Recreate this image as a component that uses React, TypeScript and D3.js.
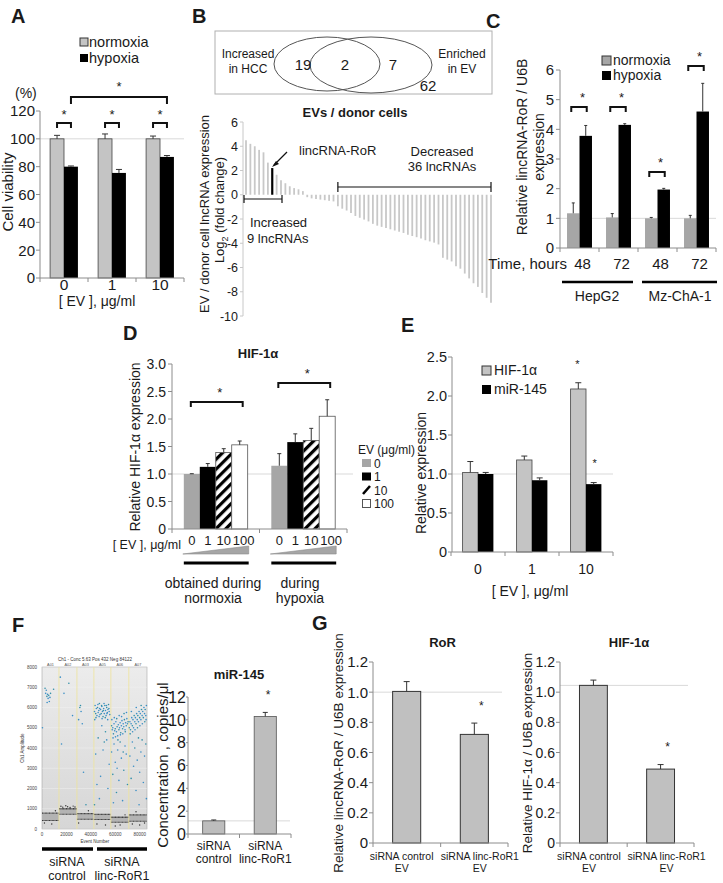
import React from "react";
import * as d3 from "d3";

const FONT = "'Liberation Sans', Arial, Helvetica, sans-serif";
const AX = "#8c8c8c";
const INK = "#1a1a1a";

// ---------- A ----------
const aDoses = ["0", "1", "10"];
const aNormoxia = [100, 100, 100];
const aNormoxiaErr = [2.5, 3.5, 2];
const aHypoxia = [80, 75.5, 87];
const aHypoxiaErr = [0.5, 2.5, 1];
const aTicks = [0, 20, 40, 60, 80, 100, 120];

// ---------- B ----------
const vennCounts = [19, 2, 7, 62];
const bIncreased = [4.5, 4.2, 4.0, 3.7, 3.5, 2.65, 2.2, 1.65, 1.2];
const bMiddle = [0.95, 0.7, 0.55, 0.45, 0.3, -0.2, -0.3, -0.35, -0.4, -0.45, -0.5, -0.55];
const bDecreased = [-0.95, -1.15, -1.3, -1.5, -1.75, -1.9, -2.05, -2.2, -2.4, -2.55, -2.65, -2.75, -2.85, -2.95, -3.05, -3.15, -3.3, -3.4, -3.5, -3.6, -3.75, -3.85, -3.95, -4.1, -5.2, -5.35, -5.5, -5.9, -6.1, -6.5, -6.9, -7.3, -7.6, -8.1, -8.5, -8.9];
const bRoRIndex = 6;
const bTicks = [6, 4, 2, 0, -2, -4, -6, -8, -10];

// ---------- C ----------
const cTimes = ["48", "72", "48", "72"];
const cCells = ["HepG2", "Mz-ChA-1"];
const cNormoxia = [1.17, 1.03, 1.0, 1.0];
const cNormoxiaErr = [0.35, 0.13, 0.03, 0.1];
const cHypoxia = [3.78, 4.15, 1.97, 4.6];
const cHypoxiaErr = [0.35, 0.04, 0.04, 0.95];
const cTicks = [0, 1, 2, 3, 4, 5, 6];

// ---------- D ----------
const dDoses = ["0", "1", "10", "100"];
const dConditions = ["normoxia", "hypoxia"];
const dNormoxia = [1.0, 1.13, 1.39, 1.53];
const dNormoxiaErr = [0.005, 0.06, 0.07, 0.07];
const dHypoxia = [1.15, 1.58, 1.61, 2.05];
const dHypoxiaErr = [0.22, 0.15, 0.22, 0.3];
const dTicks = [0, 0.5, 1.0, 1.5, 2.0, 2.5, 3.0];

// ---------- E ----------
const eDoses = ["0", "1", "10"];
const eHif = [1.02, 1.18, 2.09];
const eHifErr = [0.14, 0.05, 0.08];
const eMir = [1.0, 0.92, 0.87];
const eMirErr = [0.02, 0.03, 0.02];
const eTicks = [0, 0.5, 1.0, 1.5, 2.0, 2.5];

// ---------- F ----------
const fGroups = ["control", "linc-RoR1"];
const fConc = [1.15, 10.3];
const fConcErr = [0.08, 0.35];
const fTicks = [0, 2, 4, 6, 8, 10, 12];
const fWellNames = ["A01", "A02", "A03", "A05", "A06", "A07"];
const fWellEdgesK = [0, 13.9, 28.6, 42.5, 56.4, 71.1, 86];
const fBandLow = [420, 730, 480, 470, 330, 380];
const fBandHigh = [780, 1000, 760, 720, 580, 700];
const fAmpTicks = [0, 1000, 2000, 3000, 4000, 5000, 6000, 7000, 8000];
const fEventTicks = [0, 20000, 40000, 60000, 80000];
// positive droplets [event (thousands), amplitude]
const fPositives: [number, number][] = [
  [2.5, 6950], [3, 6700], [3.5, 6850], [4, 6550], [4.5, 6650], [5, 6450], [5.5, 6600], [6, 6300], [6.5, 6500], [7, 6700], [4.2, 6250], [0.4, 5000], [9.5, 6900],
  [15, 7500], [18, 6700], [22, 7200], [16, 4200], [25, 5600],
  [31, 6000], [32, 5800], [33, 5200], [31.5, 6100], [34, 2800], [30, 5400], [36, 1200],
  [43, 5800], [43.5, 6100], [44, 5700], [44.5, 5950], [45, 5600], [45.5, 6000], [46, 5750], [46.5, 5850], [47, 6200], [47.5, 5650], [48, 5900], [48.5, 5700], [49, 6050], [49.5, 5800], [50, 5550], [50.5, 5950], [51, 5700], [51.5, 6100], [52, 5850], [52.5, 5600], [53, 6000], [53.5, 5750], [54, 5900], [54.5, 6150], [55, 5800], [55.5, 5650], [44.2, 5500], [46.8, 5550], [49.2, 5450], [51.8, 5500], [53.8, 5400], [45.8, 6150], [48.8, 6100], [50.8, 6200], [52.8, 6100], [54.8, 5950], [43.2, 5400], [47.2, 5950], [50.2, 5850], [53.2, 5700],
  [44, 3700], [46, 4500], [48, 2600], [50, 3900], [52, 4800], [53, 4400], [55, 3200], [43, 1200], [45, 2200], [49, 5100], [51, 4300], [54, 2000], [47, 1500],
  [57, 5100], [57.5, 4900], [58, 5000], [58.5, 4700], [59, 5200], [59.5, 4850], [60, 4950], [60.5, 5300], [61, 4800], [61.5, 5050], [62, 4600], [62.5, 5150], [63, 4900], [63.5, 5000], [64, 5250], [64.5, 4750], [65, 5100], [65.5, 5350], [66, 4950], [66.5, 5200], [67, 5050], [67.5, 5400], [68, 4900], [68.5, 5250], [69, 5100], [69.5, 5450], [70, 5200], [70.5, 5300], [58.2, 4500], [60.2, 4550], [62.2, 4400], [64.2, 4650], [66.2, 4700], [68.2, 4800], [57.2, 5400], [59.2, 5500], [61.2, 5450], [63.2, 5600], [65.2, 5550], [67.2, 5700], [69.2, 5750],
  [57, 3800], [58, 2700], [59, 4200], [60, 3300], [61, 1800], [62, 3900], [63, 2400], [64, 4300], [65, 3500], [66, 1400], [67, 2900], [68, 4100], [69, 3700], [70, 2200], [58.5, 1300], [61.5, 3000], [66.5, 3800],
  [71.5, 5000], [72, 5300], [72.5, 4900], [73, 5200], [73.5, 5500], [74, 5100], [74.5, 5400], [75, 5000], [75.5, 5600], [76, 5300], [76.5, 5500], [77, 5200], [77.5, 5700], [78, 5400], [78.5, 5600], [79, 5300], [79.5, 5800], [80, 5500], [80.5, 5700], [81, 5400], [81.5, 5900], [82, 5600], [82.5, 5800], [83, 5500], [83.5, 6000], [84, 5700], [84.5, 5900], [85, 5600], [85.5, 6100], [72.2, 4700], [74.2, 4800], [76.2, 4900], [78.2, 5000], [80.2, 5100], [82.2, 5200], [84.2, 5300], [73.2, 5800], [77.2, 6000], [81.2, 6100], [85.2, 5400],
  [72, 3600], [73, 2500], [74, 4300], [75, 3100], [76, 4000], [77, 1900], [78, 3400], [79, 4500], [80, 2800], [81, 3800], [82, 4400], [83, 2300], [84, 3600], [85, 4200], [85.5, 1500], [79.5, 1200],
];
// negative-side rain droplets (dark) [event (thousands), amplitude]
const fNegRain: [number, number][] = [
  [15.5, 1120], [17, 1080], [19.5, 1150], [21, 1100], [23, 1060], [25.5, 1130], [27, 1090], [2, 300], [8, 250], [11, 900], [30, 300], [38, 900], [45, 250], [52, 200], [60, 150], [64, 200], [74, 250], [80, 200], [84, 300], [68, 700], [77, 850],
];

// ---------- G ----------
const gGroups = ["siRNA control", "siRNA linc-RoR1"];
const gRoR = [1.005, 0.72];
const gRoRErr = [0.065, 0.075];
const gHif = [1.045, 0.49];
const gHifErr = [0.035, 0.03];
const gTicks = [0, 0.2, 0.4, 0.6, 0.8, 1.0, 1.2];

// ---------- helpers ----------
const T = (props: any) => (
  <text fontFamily={FONT} fill={INK} {...props} />
);

function ErrUp({ x, yTop, yErr, cap = 3 }: { x: number; yTop: number; yErr: number; cap?: number }) {
  return (
    <g stroke="#333" strokeWidth={1}>
      <line x1={x} x2={x} y1={yTop} y2={yErr} />
      <line x1={x - cap} x2={x + cap} y1={yErr} y2={yErr} />
    </g>
  );
}

function Bracket({ x1, x2, y, h = 5, w = 2 }: { x1: number; x2: number; y: number; h?: number; w?: number }) {
  return <path d={`M${x1},${y + h}V${y}H${x2}V${y + h}`} fill="none" stroke="#111" strokeWidth={w} />;
}

function YAxis({ scale, ticks, x, fmt, size, labelX, tick = 4 }: any) {
  const [r0, r1] = scale.range();
  return (
    <g>
      <line x1={x} x2={x} y1={r0} y2={r1} stroke={AX} strokeWidth={1} />
      {ticks.map((t: number) => (
        <g key={t}>
          <line x1={x - tick} x2={x} y1={scale(t)} y2={scale(t)} stroke={AX} />
          <T x={labelX} y={scale(t)} dy="0.36em" textAnchor="end" fontSize={size}>
            {fmt ? fmt(t) : String(t)}
          </T>
        </g>
      ))}
    </g>
  );
}

function XAxis({ x0, x1, y, ticks }: { x0: number; x1: number; y: number; ticks: number[] }) {
  return (
    <g stroke={AX}>
      <line x1={x0} x2={x1} y1={y} y2={y} />
      {ticks.map((t, i) => (
        <line key={i} x1={t} x2={t} y1={y} y2={y + 4} />
      ))}
    </g>
  );
}

function RefLine({ x0, x1, y }: { x0: number; x1: number; y: number }) {
  return <line x1={x0} x2={x1} y1={y} y2={y} stroke="#d9d9d9" strokeWidth={1} />;
}

function Star({ x, y, size = 13 }: { x: number; y: number; size?: number }) {
  return (
    <T x={x} y={y + size * 0.55} textAnchor="middle" fontSize={size}>
      *
    </T>
  );
}

function bandEdges(x: d3.ScaleBand<string>, x0: number, x1: number) {
  const step = x.step();
  const dom = x.domain();
  const out = [x0];
  for (let i = 1; i < dom.length; i++) out.push(x0 + step * i);
  out.push(x1);
  return out;
}

// ---------- Panel A ----------
function PanelA() {
  const y = d3.scaleLinear().domain([0, 120]).range([278, 111]);
  const x = d3.scaleBand().domain(aDoses).range([40, 184]).paddingInner(0.42).paddingOuter(0.21);
  const bw = x.bandwidth() / 2;
  return (
    <g>
      <T x={11} y={23} fontSize={20} fontWeight="bold">A</T>
      <rect x={80} y={38} width={8} height={8} fill="#c4c4c4" stroke="#333" />
      <T x={89} y={47} fontSize={14.5}>normoxia</T>
      <rect x={80} y={54} width={8} height={8} fill="#000" />
      <T x={89} y={63} fontSize={14.5}>hypoxia</T>
      <T x={15} y={98} fontSize={14}>(%)</T>
      <RefLine x0={40} x1={184} y={y(100)} />
      {aDoses.map((d, i) => {
        const xs = x(d)!;
        return (
          <g key={d}>
            <rect x={xs} y={y(aNormoxia[i])} width={bw} height={y(0) - y(aNormoxia[i])} fill="#c4c4c4" stroke="#444" strokeWidth={0.8} />
            <rect x={xs + bw} y={y(aHypoxia[i])} width={bw} height={y(0) - y(aHypoxia[i])} fill="#000" />
            <ErrUp x={xs + bw / 2} yTop={y(aNormoxia[i])} yErr={y(aNormoxia[i] + aNormoxiaErr[i])} />
            <ErrUp x={xs + 1.5 * bw} yTop={y(aHypoxia[i])} yErr={y(aHypoxia[i] + aHypoxiaErr[i])} />
            <Bracket x1={xs + bw / 2} x2={xs + 1.5 * bw} y={123} h={5} />
            <Star x={xs + bw} y={112} />
            <T x={xs + bw} y={290} textAnchor="middle" fontSize={15.5}>{d}</T>
          </g>
        );
      })}
      <Bracket x1={x("0")! + 1.5 * bw} x2={x("10")! + 1.5 * bw} y={97} h={7} />
      <Star x={(x("0")! + x("10")!) / 2 + 1.5 * bw} y={84} />
      <YAxis scale={y} ticks={aTicks} x={40} size={15} labelX={35} />
      <XAxis x0={40} x1={184} y={278} ticks={bandEdges(x, 40, 184)} />
      <T transform="translate(8,192) rotate(-90)" dy="0.35em" textAnchor="middle" fontSize={15}>Cell viability</T>
      <T x={97} y={306} textAnchor="middle" fontSize={14}>[ EV ], μg/ml</T>
    </g>
  );
}

// ---------- Panel B ----------
function PanelB() {
  const values = [...bIncreased, ...bMiddle, ...bDecreased];
  const idx = values.map((_, i) => i);
  const x = d3.scalePoint<number>().domain(idx).range([246, 491]);
  const y = d3.scaleLinear().domain([6, -10]).range([122, 316]);
  const incEnd = x(bIncreased.length - 1)!;
  const decStart = x(bIncreased.length + bMiddle.length)!;
  const decEnd = x(values.length - 1)!;
  return (
    <g>
      <T x={192} y={23} fontSize={20} fontWeight="bold">B</T>
      <rect x={215} y={31} width={277} height={63} fill="none" stroke="#b0b0b0" />
      <ellipse cx={327} cy={64} rx={53} ry={27} fill="none" stroke="#555" />
      <ellipse cx={371} cy={65} rx={61} ry={28} fill="none" stroke="#555" />
      <T x={248} y={58} textAnchor="middle" fontSize={12}>Increased</T>
      <T x={248} y={73} textAnchor="middle" fontSize={12}>in HCC</T>
      <T x={462} y={58} textAnchor="middle" fontSize={12}>Enriched</T>
      <T x={462} y={73} textAnchor="middle" fontSize={12}>in EV</T>
      <T x={303} y={70} textAnchor="middle" fontSize={15}>{vennCounts[0]}</T>
      <T x={345} y={70} textAnchor="middle" fontSize={15}>{vennCounts[1]}</T>
      <T x={393} y={70} textAnchor="middle" fontSize={15}>{vennCounts[2]}</T>
      <T x={428} y={91} textAnchor="middle" fontSize={15}>{vennCounts[3]}</T>
      <T x={355} y={117} textAnchor="middle" fontSize={13} fontWeight="bold">EVs / donor cells</T>
      <g>
        <line x1={243} x2={243} y1={122} y2={316} stroke="#c8c8c8" />
        {bTicks.map((t) => (
          <g key={t}>
            <line x1={240} x2={243} y1={y(t)} y2={y(t)} stroke="#c8c8c8" />
            <T x={238} y={y(t)} dy="0.36em" textAnchor="end" fontSize={12.5}>{String(t)}</T>
          </g>
        ))}
      </g>
      {values.map((v, i) => (
        <line key={i} x1={x(i)} x2={x(i)} y1={y(0)} y2={y(v)}
          stroke={i === bRoRIndex ? "#000" : "#c8c8c8"} strokeWidth={i === bRoRIndex ? 2.2 : 1.8} />
      ))}
      <T transform="translate(204,214) rotate(-90)" dy="0.35em" textAnchor="middle" fontSize={13}>EV / donor cell lncRNA expression</T>
      <T transform="translate(219,210) rotate(-90)" dy="0.35em" textAnchor="middle" fontSize={13}>
        Log<tspan fontSize={9} dy="4">2</tspan><tspan dy="-4"> (fold change)</tspan>
      </T>
      <line x1={287} y1={152} x2={274} y2={165} stroke="#111" strokeWidth={1.2} />
      <path d="M272,167 L279,164 L276,161 Z" fill="#111" />
      <T x={299} y={155} fontSize={13}>lincRNA-RoR</T>
      <line x1={x(0)! - 2} x2={incEnd + 1} y1={199} y2={199} stroke="#111" strokeWidth={1.2} />
      <line x1={x(0)! - 2} x2={x(0)! - 2} y1={195} y2={203} stroke="#111" strokeWidth={1.2} />
      <line x1={incEnd + 1} x2={incEnd + 1} y1={195} y2={203} stroke="#111" strokeWidth={1.2} />
      <T x={250} y={227} fontSize={13}>Increased</T>
      <T x={247} y={243} fontSize={13}>9 lncRNAs</T>
      <line x1={decStart} x2={decEnd} y1={187} y2={187} stroke="#111" strokeWidth={1.2} />
      <line x1={decStart} x2={decStart} y1={182} y2={192} stroke="#111" strokeWidth={1.2} />
      <line x1={decEnd} x2={decEnd} y1={182} y2={192} stroke="#111" strokeWidth={1.2} />
      <T x={442} y={156} textAnchor="middle" fontSize={13}>Decreased</T>
      <T x={442} y={171} textAnchor="middle" fontSize={13}>36 lncRNAs</T>
    </g>
  );
}

// ---------- Panel C ----------
function PanelC() {
  const y = d3.scaleLinear().domain([0, 6]).range([248, 70]);
  const keys = cTimes.map((t, i) => `${i}`);
  const x = d3.scaleBand().domain(keys).range([560, 716]).paddingInner(0.36).paddingOuter(0.18);
  const bw = x.bandwidth() / 2;
  const brY = [107, 107, 172, 66];
  return (
    <g>
      <T x={486} y={28} fontSize={20} fontWeight="bold">C</T>
      <rect x={602} y={56} width={9} height={9} fill="#a6a6a6" stroke="#333" />
      <T x={613} y={65} fontSize={14}>normoxia</T>
      <rect x={602} y={71} width={9} height={9} fill="#000" />
      <T x={613} y={80} fontSize={14}>hypoxia</T>
      <RefLine x0={560} x1={716} y={y(1)} />
      {keys.map((k, i) => {
        const xs = x(k)!;
        return (
          <g key={k}>
            <rect x={xs} y={y(cNormoxia[i])} width={bw} height={y(0) - y(cNormoxia[i])} fill="#a6a6a6" />
            <rect x={xs + bw} y={y(cHypoxia[i])} width={bw} height={y(0) - y(cHypoxia[i])} fill="#000" />
            <ErrUp x={xs + bw / 2} yTop={y(cNormoxia[i])} yErr={y(cNormoxia[i] + cNormoxiaErr[i])} cap={1.5} />
            <ErrUp x={xs + 1.5 * bw} yTop={y(cHypoxia[i])} yErr={y(cHypoxia[i] + cHypoxiaErr[i])} cap={1.5} />
            <Bracket x1={xs + bw / 2 - 2} x2={xs + 1.5 * bw + 1} y={brY[i]} h={5} />
            <Star x={xs + bw + 3} y={brY[i] - 12} />
            <T x={xs + bw + 3} y={269} textAnchor="middle" fontSize={15}>{cTimes[i]}</T>
          </g>
        );
      })}
      <YAxis scale={y} ticks={cTicks} x={560} size={15} labelX={554} />
      <XAxis x0={560} x1={716} y={248} ticks={bandEdges(x, 560, 716)} />
      <T x={567} y={269} textAnchor="end" fontSize={15}>Time, hours</T>
      <line x1={562} x2={633} y1={282} y2={282} stroke="#000" strokeWidth={2.5} />
      <line x1={642} x2={717} y1={282} y2={282} stroke="#000" strokeWidth={2.5} />
      <T x={597} y={301} textAnchor="middle" fontSize={14}>{cCells[0]}</T>
      <T x={680} y={301} textAnchor="middle" fontSize={14}>{cCells[1]}</T>
      <T transform="translate(522,147) rotate(-90)" dy="0.35em" textAnchor="middle" fontSize={14}>Relative lincRNA-RoR / U6B</T>
      <T transform="translate(539,147) rotate(-90)" dy="0.35em" textAnchor="middle" fontSize={14}>expression</T>
    </g>
  );
}

// ---------- Panel D ----------
function PanelD() {
  const y = d3.scaleLinear().domain([0, 3]).range([529, 364]);
  const xg = d3.scaleBand().domain(dConditions).range([172, 347]).paddingInner(0.27).paddingOuter(0.135);
  const xi = d3.scaleBand().domain(dDoses).range([0, xg.bandwidth()]);
  const fills = ["#a6a6a6", "#000", "url(#hatch)", "#fff"];
  const series = [dNormoxia, dHypoxia];
  const errs = [dNormoxiaErr, dHypoxiaErr];
  const brY = [402, 383];
  const starY = [390, 371];
  const legY = [459, 472.5, 486, 499.5];
  return (
    <g>
      <T x={123} y={340} fontSize={20} fontWeight="bold">D</T>
      <T x={258} y={358} textAnchor="middle" fontSize={13} fontWeight="bold">HIF-1α</T>
      <RefLine x0={172} x1={353} y={y(1)} />
      {dConditions.map((c, gi) => {
        const g0 = xg(c)!;
        return (
          <g key={c}>
            {dDoses.map((d, i) => {
              const v = series[gi][i];
              const bx = g0 + xi(d)!;
              return (
                <g key={d}>
                  <rect x={bx} y={y(v)} width={xi.bandwidth()} height={y(0) - y(v)} fill={fills[i]}
                    stroke={i === 3 || i === 2 ? "#555" : "none"} strokeWidth={0.8} />
                  <ErrUp x={bx + xi.bandwidth() / 2} yTop={y(v)} yErr={y(v + errs[gi][i])} cap={2} />
                  <T x={bx + xi.bandwidth() / 2 + (i === 3 ? 4 : 0)} y={545} textAnchor="middle" fontSize={13}>{d}</T>
                </g>
              );
            })}
            <Bracket x1={g0 + 7} x2={g0 + xg.bandwidth() - 5} y={brY[gi]} h={5} />
            <Star x={g0 + xg.bandwidth() / 2 + 4} y={starY[gi]} />
            <path d={`M${g0 - 1},554 L${g0 + xg.bandwidth() + 1},554 L${g0 + xg.bandwidth() + 1},546 Z`} fill="#a6a6a6" stroke="#8c8c8c" strokeWidth={0.6} />
            <line x1={g0} x2={g0 + xg.bandwidth() + 1} y1={563} y2={563} stroke="#000" strokeWidth={3} />
          </g>
        );
      })}
      <YAxis scale={y} ticks={dTicks} x={172} size={14} labelX={166} fmt={(t: number) => (t === 0 ? "0" : t.toFixed(1))} />
      <XAxis x0={172} x1={347} y={529} ticks={bandEdges(xg, 172, 347)} />
      <T x={181} y={549} textAnchor="end" fontSize={12.5}>[ EV ], μg/ml</T>
      <T x={213} y={588} textAnchor="middle" fontSize={14}>obtained during</T>
      <T x={213} y={603} textAnchor="middle" fontSize={14}>normoxia</T>
      <T x={300} y={588} textAnchor="middle" fontSize={14}>during</T>
      <T x={300} y={603} textAnchor="middle" fontSize={14}>hypoxia</T>
      <T transform="translate(135,447) rotate(-90)" dy="0.35em" textAnchor="middle" fontSize={14}>Relative HIF-1α expression</T>
      <T x={358} y={454} fontSize={12}>EV (μg/ml)</T>
      <rect x={362} y={legY[0]} width={9} height={8} fill="#a6a6a6" />
      <T x={374} y={legY[0] + 8.5} fontSize={12}>0</T>
      <rect x={362} y={legY[1]} width={9} height={8} fill="#000" />
      <T x={374} y={legY[1] + 8.5} fontSize={12}>1</T>
      <line x1={363} y1={legY[2] + 8} x2={370} y2={legY[2]} stroke="#000" strokeWidth={2.5} />
      <T x={374} y={legY[2] + 8.5} fontSize={12}>10</T>
      <rect x={362.5} y={legY[3]} width={8} height={8} fill="#fff" stroke="#555" />
      <T x={374} y={legY[3] + 8.5} fontSize={12}>100</T>
    </g>
  );
}

// ---------- Panel E ----------
function PanelE() {
  const y = d3.scaleLinear().domain([0, 2.5]).range([552, 357]);
  const x = d3.scaleBand().domain(eDoses).range([451, 613]).paddingInner(0.43).paddingOuter(0.215);
  const bw = x.bandwidth() / 2;
  return (
    <g>
      <T x={401} y={332} fontSize={20} fontWeight="bold">E</T>
      <RefLine x0={452} x1={613} y={y(1)} />
      {eDoses.map((d, i) => {
        const xs = x(d)!;
        return (
          <g key={d}>
            <rect x={xs} y={y(eHif[i])} width={bw} height={y(0) - y(eHif[i])} fill="#c4c4c4" stroke="#444" strokeWidth={0.8} />
            <rect x={xs + bw} y={y(eMir[i])} width={bw} height={y(0) - y(eMir[i])} fill="#000" />
            <ErrUp x={xs + bw / 2} yTop={y(eHif[i])} yErr={y(eHif[i] + eHifErr[i])} cap={3} />
            <ErrUp x={xs + 1.5 * bw} yTop={y(eMir[i])} yErr={y(eMir[i] + eMirErr[i])} cap={3} />
            <T x={xs + bw} y={574} textAnchor="middle" fontSize={14}>{d}</T>
          </g>
        );
      })}
      <Star x={x("10")! + bw / 2 - 1} y={362} size={11} />
      <Star x={x("10")! + 1.5 * bw + 1} y={461} size={11} />
      <YAxis scale={y} ticks={eTicks} x={452} size={14.5} labelX={447} fmt={(t: number) => (t === 0 ? "0" : t.toFixed(1))} />
      <XAxis x0={452} x1={613} y={552} ticks={bandEdges(x, 451, 613)} />
      <rect x={482} y={366} width={9} height={9} fill="#c4c4c4" stroke="#333" />
      <T x={494} y={375} fontSize={14}>HIF-1α</T>
      <rect x={482} y={385} width={9} height={9} fill="#000" />
      <T x={494} y={394} fontSize={14}>miR-145</T>
      <T transform="translate(421,473) rotate(-90)" dy="0.35em" textAnchor="middle" fontSize={14}>Relative expression</T>
      <T x={530} y={596} textAnchor="middle" fontSize={14}>[ EV ], μg/ml</T>
    </g>
  );
}

// ---------- Panel F ----------
function PanelF() {
  const sx = d3.scaleLinear().domain([0, 86000]).range([42, 147]);
  const sy = d3.scaleLinear().domain([0, 8000]).range([829, 667]);
  const y = d3.scaleLinear().domain([0, 12]).range([834, 697]);
  const x = d3.scaleBand().domain(fGroups).range([188, 291]).paddingInner(0.57).paddingOuter(0.285);
  return (
    <g>
      <T x={12} y={632} fontSize={20} fontWeight="bold">F</T>
      {/* ddPCR plot */}
      <rect x={42} y={667} width={105} height={162} fill="url(#ddgrad)" stroke="#999" strokeWidth={0.5} />
      {fAmpTicks.map((t) => (
        <g key={t}>
          <line x1={42} x2={147} y1={sy(t)} y2={sy(t)} stroke="#f4f4f4" strokeWidth={0.4} />
          <T x={37} y={sy(t)} dy="0.35em" textAnchor="end" fontSize={4.5} fill="#444">{String(t)}</T>
        </g>
      ))}
      {fEventTicks.map((t) => (
        <T key={t} x={sx(t)} y={836} textAnchor="middle" fontSize={4.5} fill="#444">{String(t)}</T>
      ))}
      {fWellNames.map((w, i) => {
        const a = sx(fWellEdgesK[i] * 1000);
        const b = sx(fWellEdgesK[i + 1] * 1000);
        return (
          <g key={w}>
            <T x={(a + b) / 2} y={666} textAnchor="middle" fontSize={3.8} fill="#555">{w}</T>
            <rect x={a} y={sy(fBandHigh[i])} width={b - a} height={sy(fBandLow[i]) - sy(fBandHigh[i])} fill="#b3b3b3" />
            <line x1={a} x2={b} y1={sy(fBandHigh[i])} y2={sy(fBandHigh[i])} stroke="#3a3a3a" strokeWidth={1.3} strokeDasharray="1 0.4" />
            <line x1={a} x2={b} y1={sy(fBandLow[i])} y2={sy(fBandLow[i])} stroke="#3a3a3a" strokeWidth={1.1} strokeDasharray="1 0.4" />
            {i > 0 && <line x1={a} x2={a} y1={667} y2={829} stroke="#efe39a" strokeWidth={0.8} />}
          </g>
        );
      })}
      {fNegRain.map(([e, a], i) => (
        <circle key={"n" + i} cx={sx(e * 1000)} cy={sy(a)} r={0.7} fill="#333" />
      ))}
      {fPositives.map(([e, a], i) => (
        <circle key={"p" + i} cx={sx(e * 1000)} cy={sy(a)} r={0.8} fill={i % 3 === 0 ? "#2f8fa8" : "#3b8fc6"} />
      ))}
      <T x={95} y={661} textAnchor="middle" fontSize={4.5} fill="#333">Ch1 - Conc 5.63 Pos 432 Neg 84122</T>
      <T x={95} y={843} textAnchor="middle" fontSize={4.5} fill="#333">Event Number</T>
      <T transform="translate(22,748) rotate(-90)" dy="0.35em" textAnchor="middle" fontSize={4.5} fill="#333">Ch1 Amplitude</T>
      <line x1={42} x2={93} y1={849} y2={849} stroke="#000" strokeWidth={3.5} />
      <line x1={97} x2={147} y1={849} y2={849} stroke="#000" strokeWidth={3.5} />
      <T x={67} y={866} textAnchor="middle" fontSize={12.5}>siRNA</T>
      <T x={67} y={880} textAnchor="middle" fontSize={12.5}>control</T>
      <T x={122} y={866} textAnchor="middle" fontSize={12.5}>siRNA</T>
      <T x={122} y={880} textAnchor="middle" fontSize={12.5}>linc-RoR1</T>
      {/* bar chart */}
      <T x={239} y={679} textAnchor="middle" fontSize={13} fontWeight="bold">miR-145</T>
      <RefLine x0={188} x1={290} y={y(fConc[0])} />
      {fGroups.map((g, i) => {
        const bx = x(g)!;
        return (
          <g key={g}>
            <rect x={bx} y={y(fConc[i])} width={x.bandwidth()} height={y(0) - y(fConc[i])} fill="#bdbdbd" stroke="#555" strokeWidth={0.8} />
            <ErrUp x={bx + x.bandwidth() / 2} yTop={y(fConc[i])} yErr={y(fConc[i] + fConcErr[i])} cap={2.5} />
            <T x={bx + x.bandwidth() / 2} y={850} textAnchor="middle" fontSize={12}>siRNA</T>
            <T x={bx + x.bandwidth() / 2} y={863} textAnchor="middle" fontSize={12}>{g}</T>
          </g>
        );
      })}
      <Star x={268} y={692} size={12} />
      <YAxis scale={y} ticks={fTicks} x={188} size={16} labelX={186} tick={2} />
      <XAxis x0={188} x1={291} y={834} ticks={bandEdges(x, 188, 291)} />
      <T transform="translate(163,765) rotate(-90)" dy="0.35em" textAnchor="middle" fontSize={15}>Concentration , copies/μl</T>
    </g>
  );
}

// ---------- Panel G ----------
function GChart({ x0, x1, values, errs, refV, title, ylabel, labelX, starY, labelOffsets, tickSize }: any) {
  const y = d3.scaleLinear().domain([0, 1.2]).range([843, 662]);
  const x = d3.scaleBand().domain(gGroups).range([x0, x1]).paddingInner(0.585).paddingOuter(0.29);
  return (
    <g>
      <T x={(x0 + x1) / 2 + 2} y={647} textAnchor="middle" fontSize={13} fontWeight="bold">{title}</T>
      <RefLine x0={x0} x1={x1 - 6} y={y(refV)} />
      {gGroups.map((g, i) => {
        const bx = x(g)!;
        const cx = bx + x.bandwidth() / 2;
        return (
          <g key={g}>
            <rect x={bx} y={y(values[i])} width={x.bandwidth()} height={y(0) - y(values[i])} fill="#c0c0c0" stroke="#333" strokeWidth={1} />
            <ErrUp x={cx} yTop={y(values[i])} yErr={y(values[i] + errs[i])} cap={3} />
            <T x={cx + labelOffsets[i]} y={860} textAnchor="middle" fontSize={10.5}>{g}</T>
            <T x={cx + labelOffsets[i]} y={872} textAnchor="middle" fontSize={10.5}>EV</T>
          </g>
        );
      })}
      <Star x={x(gGroups[1])! + x.bandwidth() * 0.75} y={starY} size={12} />
      <YAxis scale={y} ticks={gTicks} x={x0} size={tickSize} labelX={x0 - 5} fmt={(t: number) => (t === 0 ? "0" : t.toFixed(1))} />
      <XAxis x0={x0} x1={x1} y={843} ticks={bandEdges(x, x0, x1)} />
      <T transform={`translate(${labelX},753) rotate(-90)`} dy="0.35em" textAnchor="middle" fontSize={13.5}>{ylabel}</T>
    </g>
  );
}

function PanelG() {
  return (
    <g>
      <T x={312} y={630} fontSize={20} fontWeight="bold">G</T>
      <GChart x0={373} x1={508} values={gRoR} errs={gRoRErr} refV={1.0} title="RoR"
        ylabel="Relative lincRNA-RoR / U6B expression" labelX={338} starY={703}
        labelOffsets={[-5, 5.5]} tickSize={15} />
      <GChart x0={560} x1={694} values={gHif} errs={gHifErr} refV={1.045} title="HIF-1α"
        ylabel="Relative HIF-1α / U6B expression" labelX={527} starY={744}
        labelOffsets={[-4.5, 6]} tickSize={14} />
    </g>
  );
}

export default function App() {
  return (
    <svg width={723} height={883} viewBox="0 0 723 883"
      style={{ position: "absolute", left: 0, top: 0, background: "#fff" }}>
      <defs>
        <pattern id="hatch" patternUnits="userSpaceOnUse" width="7" height="7" patternTransform="rotate(45)">
          <rect width="7" height="7" fill="#fff" />
          <rect width="3.2" height="7" fill="#000" />
        </pattern>
        <linearGradient id="ddgrad" x1="0" y1="0" x2="0" y2="1">
          <stop offset="0" stopColor="#ececec" />
          <stop offset="1" stopColor="#d6d6d6" />
        </linearGradient>
      </defs>
      <rect width={723} height={883} fill="#fff" />
      <PanelA />
      <PanelB />
      <PanelC />
      <PanelD />
      <PanelE />
      <PanelF />
      <PanelG />
    </svg>
  );
}
